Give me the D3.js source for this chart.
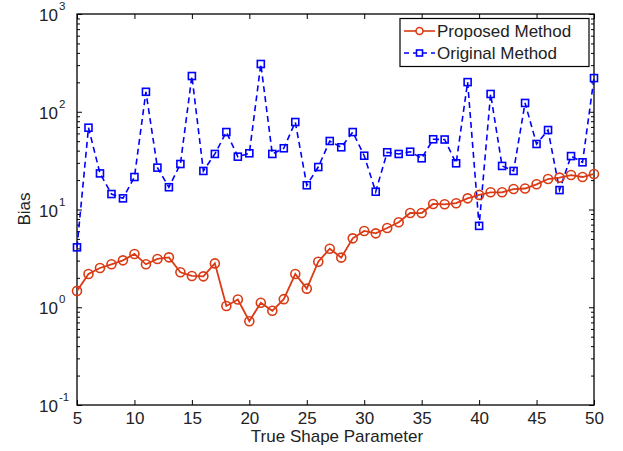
<!DOCTYPE html>
<html><head><meta charset="utf-8">
<script src="https://cdn.jsdelivr.net/npm/d3@7"></script>
<style>
body{margin:0;background:#fff;}
text{font-family:"Liberation Sans",Arial,sans-serif;fill:#222;}
</style></head>
<body><svg id="c" width="623" height="451"></svg>
<script>
const shapeParam = d3.range(5, 51);
const proposedBias = [1.47,2.19,2.52,2.75,3.02,3.51,2.75,3.12,3.24,2.28,2.09,2.07,2.81,1.03,1.20,0.72,1.11,0.92,1.21,2.19,1.55,2.92,3.97,3.22,5.07,6.03,5.70,6.47,7.40,9.21,9.20,11.4,11.3,11.6,13.0,14.1,15.0,15.0,16.2,16.4,18.1,20.5,21.2,22.5,21.5,23.1];
const originalBias = [4.1,68.7,23.4,14.4,13.0,21.5,160,26.8,16.9,29.2,232,24.8,37,62,34.7,37.6,308,37,42.3,78.5,17.7,27.2,50.2,43.3,62,35.5,15.2,38.5,37,39,33.4,52.3,52,29.7,201,6.8,152,27.9,24.8,123,46.8,65,15.8,35.2,30.4,221];
const xTicks = [5,10,15,20,25,30,35,40,45,50];
const yTicks = [0.1,1,10,100,1000];
const seriesNames = ["Proposed Method","Original Method"];

const red = "#da3a14", blue = "#0000ff";
const svg = d3.select("#c");
const L = 77, R = 594, T = 14, B = 405;
const x = d3.scaleLinear().domain([5,50]).range([L,R]);
const y = d3.scaleLog().domain([0.1,1000]).range([B,T]);
const FS = 17;

// minor ticks
const minor = [];
for (let e=-1;e<3;e++) for (let k=2;k<10;k++) minor.push(k*Math.pow(10,e));

const g = svg.append("g");
g.append("rect").attr("x",L).attr("y",T).attr("width",R-L).attr("height",B-T)
 .attr("fill","none").attr("stroke","#000").attr("stroke-width",1.3);

const xb = g.append("g").attr("transform",`translate(0,${B})`)
 .call(d3.axisBottom(x).tickValues(xTicks).tickSize(-5).tickPadding(7).tickFormat(d3.format("d")));
g.append("g").attr("transform",`translate(0,${T})`)
 .call(d3.axisTop(x).tickValues(xTicks).tickSize(-5).tickFormat(""));
g.append("g").attr("transform",`translate(${L},0)`)
 .call(d3.axisLeft(y).tickValues(yTicks).tickSize(-5).tickFormat(""));
g.append("g").attr("transform",`translate(${R},0)`)
 .call(d3.axisRight(y).tickValues(yTicks).tickSize(-5).tickFormat(""));
g.append("g").attr("transform",`translate(${L},0)`)
 .call(d3.axisLeft(y).tickValues(minor).tickSize(-3).tickFormat(""));
g.append("g").attr("transform",`translate(${R},0)`)
 .call(d3.axisRight(y).tickValues(minor).tickSize(-3).tickFormat(""));
g.selectAll(".domain").remove();
g.selectAll(".tick line").attr("stroke","#000").attr("stroke-width",1);
xb.selectAll("text").attr("font-size",FS).attr("fill","#222").attr("font-family","Liberation Sans, Arial, sans-serif");

// y labels with superscripts
yTicks.forEach(v=>{
  const e = Math.round(Math.log10(v));
  g.append("text").attr("x",58).attr("y",y(v)+7).attr("text-anchor","end")
    .attr("font-size",FS).text("10");
  g.append("text").attr("x",59).attr("y",y(v)-4).attr("font-size",11.5).text(e);
});

// axis titles
svg.append("text").attr("x",337).attr("y",442).attr("text-anchor","middle").attr("font-size",FS).text("True Shape Parameter");
svg.append("text").attr("transform","translate(30,209) rotate(-90)").attr("text-anchor","middle").attr("font-size",FS).text("Bias");

const line = d3.line().x((d,i)=>x(shapeParam[i])).y(d=>y(d));
svg.append("path").datum(originalBias).attr("d",line).attr("fill","none")
 .attr("stroke",blue).attr("stroke-width",1.6).attr("stroke-dasharray","6,4");
svg.selectAll(".sq").data(originalBias).enter().append("rect")
 .attr("x",(d,i)=>x(shapeParam[i])-3.5).attr("y",d=>y(d)-3.5).attr("width",7).attr("height",7)
 .attr("fill","none").attr("stroke",blue).attr("stroke-width",1.6);
svg.append("path").datum(proposedBias).attr("d",line).attr("fill","none")
 .attr("stroke",red).attr("stroke-width",1.8);
svg.selectAll(".ci").data(proposedBias).enter().append("circle")
 .attr("cx",(d,i)=>x(shapeParam[i])).attr("cy",d=>y(d)).attr("r",4.5)
 .attr("fill","none").attr("stroke",red).attr("stroke-width",1.6);

// legend
const lg = svg.append("g");
lg.append("rect").attr("x",400).attr("y",18.5).attr("width",189).attr("height",48)
 .attr("fill","#fff").attr("stroke","#000").attr("stroke-width",1.2);
const rows = [{c:red,dash:null,m:"c",yy:31},{c:blue,dash:"5,4",m:"s",yy:53}];
rows.forEach((r,i)=>{
  lg.append("line").attr("x1",404).attr("x2",435).attr("y1",r.yy).attr("y2",r.yy)
   .attr("stroke",r.c).attr("stroke-width",1.6).attr("stroke-dasharray",r.dash);
  if(r.m==="c") lg.append("circle").attr("cx",419.5).attr("cy",r.yy).attr("r",3.5).attr("fill","#fff").attr("stroke",r.c).attr("stroke-width",1.6);
  else lg.append("rect").attr("x",416.5).attr("y",r.yy-3).attr("width",6).attr("height",6).attr("fill","#fff").attr("stroke",r.c).attr("stroke-width",1.6);
  lg.append("text").attr("x",437).attr("y",r.yy+6).attr("font-size",FS).text(seriesNames[i]);
});
</script></body></html>
